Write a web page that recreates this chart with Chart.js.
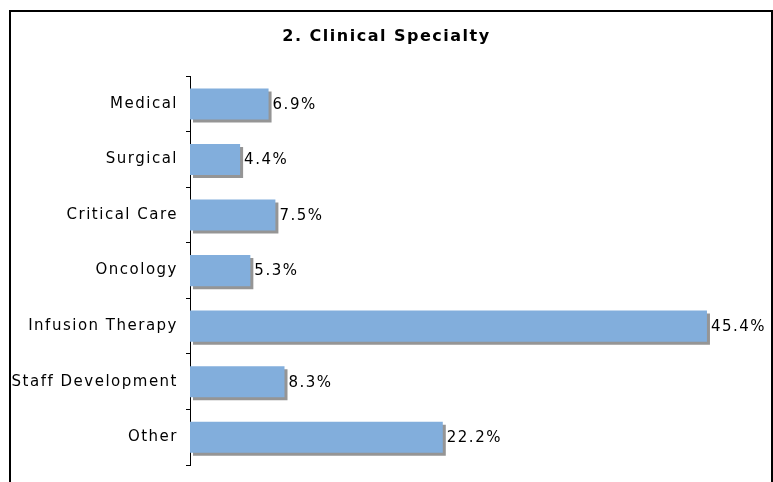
<!DOCTYPE html>
<html>
<head>
<meta charset="utf-8">
<script src="https://cdn.jsdelivr.net/npm/chart.js@4.4.1/dist/chart.umd.min.js"></script>
<style>
  html, body { margin: 0; padding: 0; background: #fff; }
  #wrap { width: 773px; height: 482px; }
</style>
</head>
<body>
<div id="wrap"><canvas id="grafico"></canvas></div>
<script>
var categorias = ['Medical', 'Surgical', 'Critical Care', 'Oncology', 'Infusion Therapy', 'Staff Development', 'Other'];
var percentuais = [6.9, 4.4, 7.5, 5.3, 45.4, 8.3, 22.2];
var titulo = '2. Clinical Specialty';

var espacamento = '1.5px';

// espaçamento das letras (parecido com a fonte original)
var pluginLetras = {
  id: 'letras',
  beforeLayout: function (chart) { chart.ctx.letterSpacing = espacamento; },
  beforeDraw: function (chart) { chart.ctx.letterSpacing = espacamento; }
};

// sombra cinza nas barras
var pluginSombra = {
  id: 'sombra',
  beforeDatasetDraw: function (chart) {
    var ctx = chart.ctx;
    ctx.save();
    ctx.shadowColor = '#959595';
    ctx.shadowOffsetX = 3;
    ctx.shadowOffsetY = 3;
    ctx.shadowBlur = 0;
  },
  afterDatasetDraw: function (chart) { chart.ctx.restore(); }
};

// rótulos de valor + moldura
var pluginRotulos = {
  id: 'rotulos',
  afterDatasetsDraw: function (chart) {
    var ctx = chart.ctx;
    ctx.save();
    ctx.font = '15px "DejaVu Sans"';
    ctx.fillStyle = '#000';
    ctx.textAlign = 'left';
    ctx.textBaseline = 'middle';
    chart.getDatasetMeta(0).data.forEach(function (bar, i) {
      ctx.fillText(percentuais[i].toFixed(1) + '%', bar.x + 4, bar.y + 1);
    });
    ctx.restore();
  },
  afterDraw: function (chart) {
    var ctx = chart.ctx;
    ctx.save();
    ctx.strokeStyle = '#000';
    ctx.lineWidth = 2;
    ctx.strokeRect(10, 11, 762, 600);
    ctx.restore();
  }
};

new Chart(document.getElementById('grafico'), {
  type: 'bar',
  data: {
    labels: categorias,
    datasets: [{
      data: percentuais,
      backgroundColor: '#82aedc',
      borderWidth: 0,
      barPercentage: 0.56,
      categoryPercentage: 1
    }]
  },
  options: {
    indexAxis: 'y',
    responsive: true,
    maintainAspectRatio: false,
    animation: false,
    layout: { padding: { left: 0, right: 0, top: 0, bottom: 8 } },
    plugins: {
      legend: { display: false },
      tooltip: { enabled: false },
      title: {
        display: true,
        text: titulo,
        color: '#000',
        font: { family: 'DejaVu Sans', size: 16, weight: 'bold' },
        padding: { top: 27, bottom: 30 }
      }
    },
    scales: {
      x: { display: false, min: 0, max: 51.2 },
      y: {
        afterFit: function (s) { s.width = 190; },
        border: { display: true, color: '#000', width: 1 },
        grid: { display: true, drawOnChartArea: false, drawTicks: true, tickLength: 4, color: '#000', offset: true },
        ticks: { color: '#000', padding: 8, font: { family: 'DejaVu Sans', size: 15 } }
      }
    }
  },
  plugins: [pluginLetras, pluginSombra, pluginRotulos]
});
</script>
</body>
</html>
